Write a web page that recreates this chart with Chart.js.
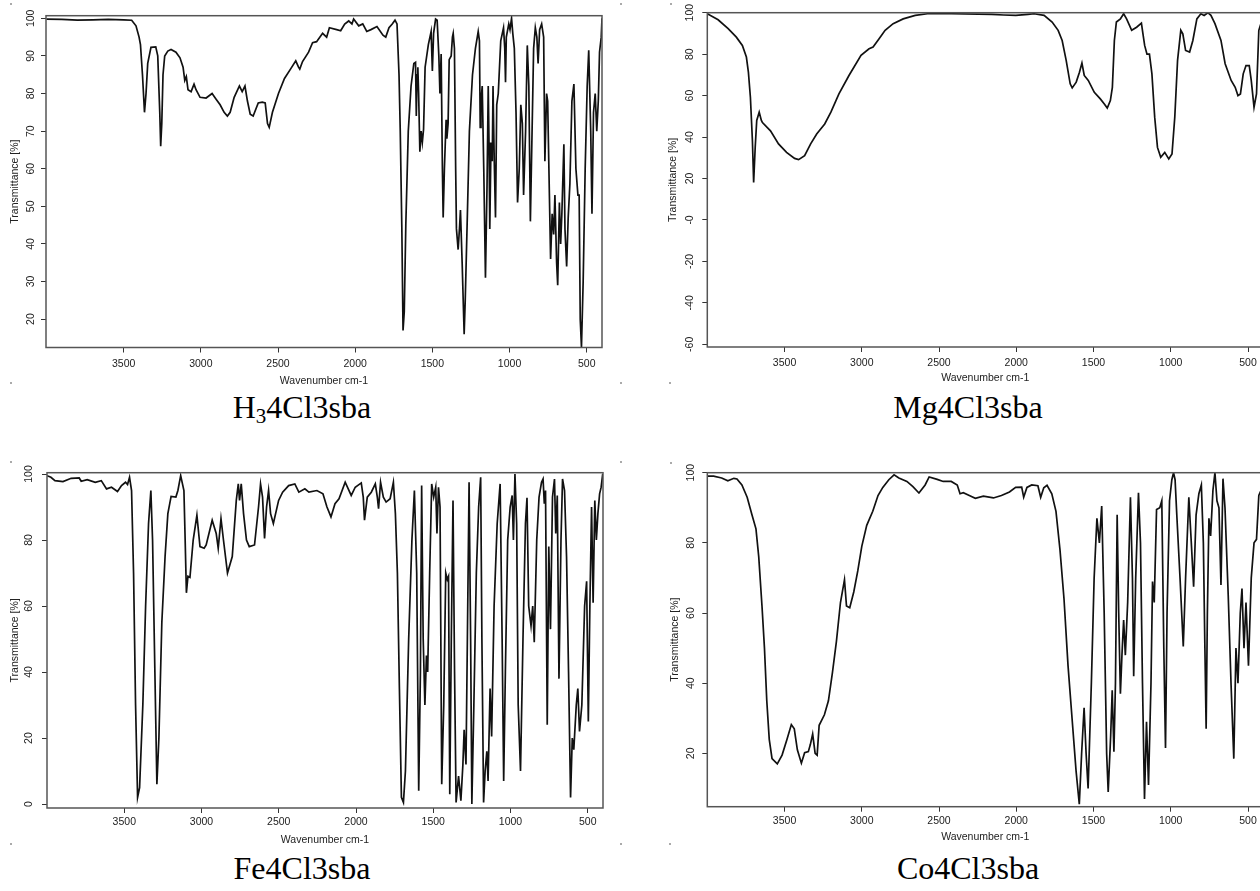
<!DOCTYPE html>
<html>
<head>
<meta charset="utf-8">
<title>IR spectra</title>
<script src="https://cdn.jsdelivr.net/npm/chart.js@4.4.0/dist/chart.umd.min.js"></script>
<style>
    html, body { margin: 0; padding: 0; background: #fff; }
    body { position: relative; width: 1260px; height: 891px; overflow: hidden; }
    canvas { position: absolute; }
    .caption {
        position: absolute;
        transform: translateX(-50%);
        font-family: 'Liberation Serif', 'Times New Roman', serif;
        font-size: 32px;
        line-height: 32px;
        color: #000;
        white-space: nowrap;
    }
    .caption sub { font-size: 21px; line-height: 0; vertical-align: -5px; }
    .speck { position: absolute; width: 2px; height: 2px; background: #aaa; }
</style>
</head>
<body>

<div class="caption" style="left:302px; top:391px">H<sub>3</sub>4Cl3sba</div>
<div class="caption" style="left:968px; top:391px">Mg4Cl3sba</div>
<div class="caption" style="left:302px; top:852px">Fe4Cl3sba</div>
<div class="caption" style="left:968px; top:852px">Co4Cl3sba</div>

<div class="speck" style="left:10px; top:3px"></div>
<div class="speck" style="left:620px; top:3px"></div>
<div class="speck" style="left:670px; top:3px"></div>
<div class="speck" style="left:10px; top:382px"></div>
<div class="speck" style="left:620px; top:382px"></div>
<div class="speck" style="left:669px; top:382px"></div>
<div class="speck" style="left:10px; top:461px"></div>
<div class="speck" style="left:620px; top:461px"></div>
<div class="speck" style="left:670px; top:462px"></div>
<div class="speck" style="left:10px; top:843px"></div>
<div class="speck" style="left:620px; top:843px"></div>
<div class="speck" style="left:669px; top:843px"></div>

<script>
/* ─── Spectra: [wavenumber cm-1, transmittance %] ─── */
const h3Spectrum = [
    [4000, 99.8], [3900, 99.7], [3800, 99.5], [3700, 99.6], [3600, 99.7], [3500, 99.6], [3448, 99.5], [3420, 98], [3400, 95], [3391, 93],
    [3378, 85], [3365, 75], [3355, 80], [3344, 88], [3323, 92.3], [3292, 92.4], [3279, 90], [3266, 75], [3260, 66], [3253, 72],
    [3245, 85], [3234, 90], [3214, 91.3], [3193, 91.7], [3161, 91], [3135, 89.5], [3115, 87], [3104, 83.5], [3094, 84.5], [3083, 81],
    [3063, 80.5], [3044, 82.5], [3031, 81], [3005, 79], [2966, 78.8], [2927, 80], [2901, 78.5], [2875, 77], [2849, 75], [2828, 74],
    [2810, 75], [2784, 79], [2750, 82], [2732, 80.5], [2714, 82], [2698, 78], [2680, 74.5], [2661, 74], [2628, 77.5], [2602, 77.7],
    [2583, 77.5], [2568, 72], [2557, 71], [2536, 75], [2497, 80], [2458, 84], [2419, 86.5], [2385, 88.7], [2367, 87], [2359, 86.5],
    [2341, 88.5], [2302, 91], [2276, 93.5], [2250, 93.8], [2211, 96], [2185, 95], [2167, 97.5], [2120, 97], [2094, 96.7], [2068, 98.5],
    [2042, 99.3], [2021, 98.5], [2010, 99.8], [1977, 98], [1951, 98.5], [1925, 96.5], [1898, 97], [1859, 97.8], [1820, 95.5], [1802, 95],
    [1781, 97.5], [1760, 98.5], [1742, 99.5], [1729, 98.5], [1716, 85], [1708, 70], [1698, 45], [1690, 17], [1682, 22], [1672, 45],
    [1656, 70], [1638, 82], [1620, 88], [1609, 88.3], [1604, 74], [1599, 85], [1594, 87], [1589, 80], [1581, 64.5], [1573, 70],
    [1565, 67], [1557, 70.5], [1547, 87], [1526, 93], [1508, 96.5], [1500, 86], [1492, 96], [1479, 99.8], [1469, 99.5], [1458, 90],
    [1451, 80], [1443, 90.5], [1435, 60], [1430, 47], [1422, 60], [1411, 73], [1406, 68], [1398, 72], [1391, 89], [1378, 90],
    [1370, 95], [1365, 96], [1357, 92], [1349, 60], [1344, 44], [1333, 38.5], [1323, 45], [1318, 49], [1307, 35], [1294, 16],
    [1287, 25], [1273, 48], [1260, 70], [1240, 85], [1221, 92], [1203, 96.5], [1195, 94], [1190, 71], [1185, 78], [1177, 82],
    [1167, 60], [1156, 31], [1146, 55], [1138, 82], [1133, 67], [1128, 44], [1120, 67], [1112, 62], [1107, 82], [1099, 62],
    [1091, 47], [1083, 77], [1073, 80], [1057, 94], [1039, 97.5], [1031, 92], [1026, 83], [1021, 95], [1005, 98.5], [997, 97],
    [987, 100], [979, 96], [969, 92], [958, 75], [948, 51], [937, 60], [927, 77], [917, 72], [909, 53], [896, 70],
    [885, 92.8], [875, 82], [865, 46], [854, 70], [844, 92], [833, 97.5], [823, 95], [815, 88], [805, 97], [792, 98.5],
    [779, 95], [771, 62], [760, 80], [753, 78], [745, 60], [734, 36], [724, 48], [714, 42.5], [706, 53], [695, 35],
    [688, 29], [677, 51], [669, 40], [661, 48], [648, 66.5], [641, 44], [630, 34], [620, 47], [609, 56], [596, 78],
    [583, 82.5], [570, 60], [557, 53], [549, 53], [542, 20], [534, 12.5], [523, 30], [510, 60], [497, 82], [487, 91.5],
    [474, 70], [466, 48], [456, 75], [445, 80], [435, 70], [425, 78], [417, 91], [406, 95], [401, 100]
];

const mgSpectrum = [
    [4000, 99.5], [3930, 96.6], [3865, 92.3], [3812, 88.2], [3773, 84.2], [3747, 78.6], [3734, 71.3], [3721, 59.2], [3708, 38.3], [3700, 18.1],
    [3690, 35], [3680, 48], [3664, 52], [3650, 48], [3643, 47], [3591, 43], [3539, 36.7], [3487, 32.6], [3435, 29.7], [3409, 29.1],
    [3370, 31], [3331, 36.7], [3292, 41.5], [3240, 46.3], [3200, 52], [3148, 60.8], [3083, 69.7], [3005, 79.4], [2953, 82.6], [2927, 83.4],
    [2888, 87.4], [2849, 91.5], [2797, 94.7], [2732, 97], [2654, 98.7], [2575, 99.5], [2419, 99.5], [2159, 99.2], [2081, 98.9], [2003, 98.7],
    [1924, 99.2], [1885, 99.5], [1820, 98.7], [1768, 95.5], [1729, 91.5], [1703, 86.6], [1677, 77], [1651, 65.7], [1638, 63.7], [1612, 66.5],
    [1591, 71.3], [1575, 75.7], [1560, 69.7], [1534, 67.3], [1495, 61.6], [1456, 58.4], [1430, 56], [1411, 54], [1391, 57.6], [1378, 64],
    [1365, 86.6], [1352, 95.5], [1326, 97], [1305, 99.5], [1286, 97], [1253, 91.5], [1221, 93], [1190, 95], [1180, 89.8], [1169, 84.2],
    [1154, 80], [1138, 80], [1122, 70.5], [1104, 49.6], [1086, 35], [1065, 30.2], [1039, 32.6], [1013, 29.4], [992, 31.8], [974, 49.6],
    [956, 77], [935, 91.5], [922, 89.8], [904, 81.8], [878, 81], [857, 86.6], [831, 97], [805, 99.5], [784, 98.7], [760, 100],
    [740, 98.7], [714, 94.7], [675, 86.6], [648, 75.4], [609, 67.3], [583, 64], [565, 60], [549, 60.8], [531, 70.5], [513, 74.5],
    [492, 74.5], [479, 67.3], [461, 54.4], [445, 60.8], [430, 91.5], [415, 95], [400, 96]
];

const feSpectrum = [
    [4000, 99.5], [3975, 99], [3949, 98], [3897, 97.7], [3844, 98.7], [3792, 98.8], [3779, 97.8], [3740, 98.3], [3688, 97.5], [3649, 98],
    [3615, 95.5], [3583, 96], [3544, 94.7], [3518, 96.5], [3492, 97.5], [3479, 96.8], [3466, 99], [3453, 95], [3440, 70], [3427, 30],
    [3414, 2], [3401, 5], [3380, 30], [3362, 60], [3343, 85], [3328, 95], [3317, 80], [3302, 40], [3289, 6], [3276, 20],
    [3257, 55], [3236, 75], [3218, 88], [3197, 93.2], [3166, 93], [3153, 95], [3135, 99.5], [3114, 95], [3106, 80], [3098, 64],
    [3088, 69], [3075, 68.7], [3054, 80], [3030, 87.5], [3010, 78], [2983, 77.5], [2970, 78.5], [2931, 86], [2905, 82], [2892, 77.5],
    [2874, 86.5], [2858, 80], [2832, 70], [2801, 75], [2775, 92], [2762, 97], [2754, 92], [2743, 97], [2728, 88], [2709, 80],
    [2691, 78], [2657, 78.5], [2631, 90], [2618, 97], [2605, 93], [2592, 80.5], [2579, 90], [2566, 95], [2553, 88], [2535, 85],
    [2501, 92], [2475, 94.5], [2436, 96.5], [2396, 97], [2370, 94.5], [2331, 95.5], [2305, 94.5], [2253, 95], [2214, 94], [2188, 90],
    [2162, 87], [2136, 91], [2110, 92.5], [2070, 97.5], [2031, 93.5], [2005, 96], [1966, 97.3], [1953, 93], [1945, 86], [1927, 93],
    [1901, 94.5], [1875, 97], [1862, 93], [1854, 89.5], [1841, 97.5], [1823, 93], [1805, 91.5], [1779, 92.5], [1758, 97.5], [1745, 88],
    [1732, 70], [1719, 35], [1706, 2], [1693, 0.5], [1680, 10], [1659, 50], [1638, 80], [1622, 95], [1607, 70], [1594, 4],
    [1583, 40], [1575, 96.5], [1565, 50], [1554, 30], [1544, 45], [1536, 40], [1523, 70], [1510, 97], [1497, 93], [1484, 96],
    [1476, 82], [1466, 96], [1456, 90], [1445, 6], [1432, 30], [1419, 70], [1409, 68], [1401, 69], [1393, 3], [1383, 50],
    [1372, 92], [1362, 40], [1352, 0.5], [1336, 8.5], [1321, 1], [1308, 12], [1300, 22.5], [1288, 12], [1279, 50], [1268, 97.5],
    [1258, 50], [1250, 0], [1237, 30], [1221, 70], [1206, 90], [1193, 99], [1185, 50], [1174, 0.5], [1164, 10], [1153, 16],
    [1145, 7], [1132, 35], [1122, 20.5], [1106, 60], [1086, 85], [1067, 97], [1054, 50], [1044, 7], [1033, 40], [1018, 80],
    [1002, 90], [989, 93.5], [981, 80], [971, 100], [960, 85], [950, 30], [935, 10], [919, 50], [903, 85], [893, 92.8],
    [882, 60], [867, 54], [856, 60], [846, 49], [830, 80], [815, 93], [799, 97.5], [789, 98.5], [781, 91], [773, 95],
    [762, 24], [752, 78], [741, 53], [728, 93], [715, 98.5], [707, 82], [697, 93.5], [686, 38], [673, 80], [663, 98.5],
    [650, 95], [637, 75], [624, 40], [611, 2], [600, 20], [590, 16.5], [574, 30], [564, 35], [553, 22], [538, 30],
    [520, 60], [507, 67.5], [496, 25], [486, 60], [475, 90], [465, 61], [454, 92], [444, 80], [434, 88], [423, 94],
    [413, 96], [403, 100]
];

const coSpectrum = [
    [4000, 99], [3959, 99], [3907, 98.5], [3867, 97.7], [3828, 98.4], [3808, 98.2], [3776, 96.5], [3742, 93], [3711, 88], [3685, 84],
    [3667, 76], [3646, 62], [3630, 50], [3615, 35], [3599, 24], [3581, 18.5], [3547, 17], [3516, 19.5], [3484, 24], [3456, 28.2],
    [3437, 27], [3417, 21], [3391, 17.2], [3370, 20.2], [3346, 20.5], [3333, 22.5], [3318, 25.5], [3302, 20], [3289, 19.5], [3276, 28],
    [3242, 31], [3216, 35], [3190, 43], [3164, 52], [3138, 63], [3112, 69.5], [3099, 62], [3078, 61.5], [3052, 66], [3026, 72],
    [3000, 79], [2968, 85], [2929, 89], [2895, 93.5], [2864, 95.8], [2825, 98], [2791, 99.4], [2760, 98.5], [2708, 97.5], [2669, 96],
    [2630, 94.2], [2590, 96.5], [2564, 98.8], [2512, 98.1], [2473, 97.5], [2421, 97.5], [2382, 96.5], [2364, 94], [2343, 94.3], [2304, 93.5],
    [2265, 92.7], [2213, 93.3], [2148, 92.8], [2096, 93.5], [2044, 94.5], [2004, 95.8], [1965, 95.9], [1952, 93], [1931, 95.8], [1900, 96.5],
    [1860, 96.3], [1842, 93], [1822, 95.7], [1801, 96.4], [1770, 94], [1743, 89], [1717, 78], [1691, 64], [1665, 45], [1639, 30],
    [1613, 15], [1592, 5.5], [1577, 20], [1561, 33], [1548, 20], [1535, 10], [1514, 40], [1496, 70], [1478, 87], [1462, 80],
    [1447, 90.5], [1431, 60], [1415, 20], [1405, 9], [1389, 25], [1379, 38], [1368, 20.5], [1358, 40], [1347, 88], [1337, 60],
    [1326, 37], [1316, 48], [1305, 58], [1294, 48], [1279, 63], [1261, 93], [1248, 70], [1240, 42], [1227, 70], [1209, 94.3],
    [1196, 80], [1183, 40], [1170, 7], [1157, 29], [1144, 11], [1128, 40], [1118, 69], [1107, 63], [1092, 89.5], [1071, 90],
    [1058, 92], [1045, 50], [1034, 21.5], [1024, 60], [1008, 92], [993, 98], [982, 100], [972, 98], [961, 88], [940, 70],
    [919, 50.5], [904, 70], [883, 93], [867, 80], [852, 67.5], [836, 88], [818, 94], [802, 96.5], [789, 80], [779, 50],
    [771, 27], [763, 60], [753, 87], [742, 82], [727, 95], [714, 100], [701, 92], [688, 90], [675, 68], [662, 98.3],
    [649, 90], [628, 65], [610, 40], [592, 18.5], [578, 50], [565, 40], [550, 60], [539, 67], [526, 50], [513, 63],
    [497, 45], [479, 70], [461, 80], [445, 81], [430, 93.5], [415, 95], [400, 96]
];

/* ─── Tick values ─── */
const xTickValues   = [3500, 3000, 2500, 2000, 1500, 1000, 500];
const h3YTicks      = [20, 30, 40, 50, 60, 70, 80, 90, 100];
const mgYTicks      = [-60, -40, -20, 0, 20, 40, 60, 80, 100];
const mgYTickLabels = ['-60', '-40', '-20', '-0', '20', '40', '60', '80', '100'];
const feYTicks      = [0, 20, 40, 60, 80, 100];
const coYTicks      = [20, 40, 60, 80, 100];

/* ─── Panel layout (plot box in page pixels + axis ranges) ─── */
const panels = [
    { data: h3Spectrum, yTicks: h3YTicks, yLabels: null,
      area: { l: 46, t: 15.7, r: 602, b: 347.5 }, x: [401, 4003], y: [12.45, 100.7],
      yTickPad: 1.2, xTickPad: 5, yTitlePad: 2.7, xTitlePad: 2.5 },
    { data: mgSpectrum, yTicks: mgYTicks, yLabels: mgYTickLabels,
      area: { l: 707.3, t: 12.7, r: 1263.3, b: 347 }, x: [401, 4000], y: [-61.3, 100],
      yTickPad: 3.2, xTickPad: 5, yTitlePad: 0, xTitlePad: 4.7 },
    { data: feSpectrum, yTicks: feYTicks, yLabels: null,
      area: { l: 47, t: 472.7, r: 603, b: 808 }, x: [401, 4000.4], y: [-1.2, 100.4],
      yTickPad: 4.2, xTickPad: 2.7, yTitlePad: 1.7, xTitlePad: 3.7 },
    { data: coSpectrum, yTicks: coYTicks, yLabels: null,
      area: { l: 707.3, t: 472.7, r: 1263.3, b: 806.7 }, x: [401, 4000], y: [4.8, 100],
      yTickPad: 2.2, xTickPad: 3, yTitlePad: 2, xTitlePad: 5.2 }
];

Chart.defaults.font.family = "'Liberation Sans', Arial, sans-serif";
Chart.defaults.font.size = 10.5;
Chart.defaults.color = '#222';

const boxPlugin = {
    id: 'plotBox',
    afterDatasetsDraw(chart) {
        const { ctx, chartArea: c } = chart;
        ctx.save();
        ctx.strokeStyle = '#555';
        ctx.lineWidth = 1.5;
        ctx.strokeRect(c.left, c.top, c.right - c.left, c.bottom - c.top);
        ctx.restore();
    }
};

function makePanel(p) {
    const W = 40, H = 42;
    const a = p.area;
    const left = Math.floor(a.l - W - 4);
    const top = Math.floor(a.t - 14);
    const width = Math.ceil(a.r + 14) - left;
    const height = Math.ceil(a.b + H + 4) - top;

    const canvas = document.createElement('canvas');
    canvas.width = width;
    canvas.height = height;
    canvas.style.left = left + 'px';
    canvas.style.top = top + 'px';
    canvas.style.width = width + 'px';
    canvas.style.height = height + 'px';
    document.body.appendChild(canvas);

    new Chart(canvas, {
        type: 'scatter',
        data: {
            datasets: [{
                data: p.data.map(([x, y]) => ({ x, y })),
                showLine: true,
                borderColor: '#111',
                borderWidth: 1.7,
                pointRadius: 0,
                tension: 0
            }]
        },
        options: {
            responsive: false,
            animation: false,
            devicePixelRatio: 1,
            layout: {
                padding: {
                    left: a.l - W - left,
                    top: a.t - top,
                    right: left + width - a.r,
                    bottom: top + height - a.b - H
                }
            },
            plugins: { legend: { display: false }, tooltip: { enabled: false } },
            scales: {
                x: {
                    type: 'linear',
                    reverse: true,
                    min: p.x[0],
                    max: p.x[1],
                    afterBuildTicks: s => { s.ticks = xTickValues.map(v => ({ value: v })); },
                    afterFit: s => { s.height = H; },
                    ticks: { padding: p.xTickPad, minRotation: 0, maxRotation: 0, autoSkip: false,
                             callback: v => String(v) },
                    grid: { drawOnChartArea: false, drawTicks: true, tickLength: 5, color: '#333' },
                    border: { display: false },
                    title: { display: true, text: 'Wavenumber cm-1',
                             padding: { top: 0, bottom: p.xTitlePad } }
                },
                y: {
                    type: 'linear',
                    min: p.y[0],
                    max: p.y[1],
                    afterBuildTicks: s => { s.ticks = p.yTicks.map(v => ({ value: v })); },
                    afterFit: s => { s.width = W; },
                    ticks: { padding: p.yTickPad, minRotation: 90, maxRotation: 90, autoSkip: false,
                             crossAlign: 'center',
                             callback: v => p.yLabels ? p.yLabels[p.yTicks.indexOf(v)] : String(v) },
                    grid: { drawOnChartArea: false, drawTicks: true, tickLength: 5, color: '#333' },
                    border: { display: false },
                    title: { display: true, text: 'Transmittance [%]',
                             padding: { top: p.yTitlePad, bottom: 0 } }
                }
            }
        },
        plugins: [boxPlugin]
    });
}

panels.forEach(makePanel);
</script>
</body>
</html>
